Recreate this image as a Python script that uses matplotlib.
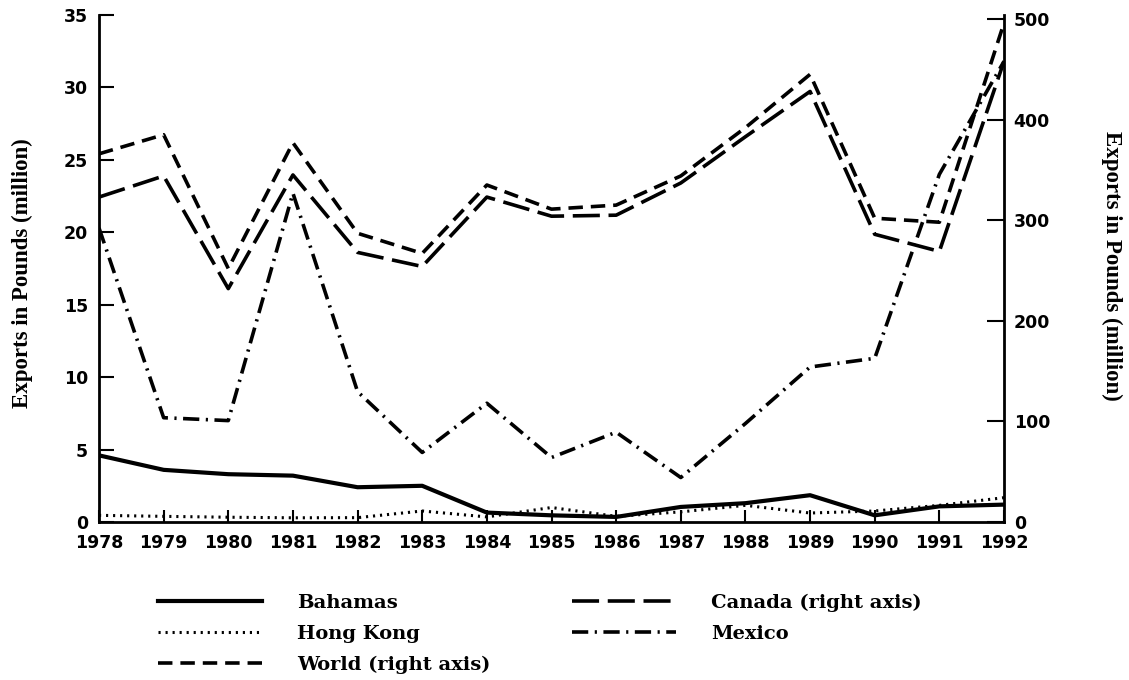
import matplotlib
matplotlib.use('Agg')
import matplotlib.pyplot as plt
from matplotlib.font_manager import FontProperties

# values
years = list(range(1978, 1993))
bahamas = [4.6, 3.6, 3.3, 3.2, 2.4, 2.5, 0.65, 0.46, 0.35, 1.04, 1.3, 1.85, 0.46, 1.08, 1.2]
hong_kong = [0.46, 0.39, 0.33, 0.29, 0.3, 0.76, 0.35, 1.0, 0.39, 0.7, 1.15, 0.62, 0.76, 1.15, 1.68]
mexico = [20.3, 7.2, 7.0, 22.7, 9.0, 4.8, 8.2, 4.45, 6.2, 3.07, 6.8, 10.7, 11.3, 24.0, 31.8]
world = [366, 385, 252, 377, 287, 267, 335, 311, 315, 344, 392, 445, 302, 298, 496]
canada = [323, 344, 232, 345, 268, 254, 323, 304, 305, 337, 383, 428, 286, 269, 458]

left_ticks = [0, 5, 10, 15, 20, 25, 30, 35]
right_ticks = [0, 100, 200, 300, 400, 500]
axis_label = 'Exports in Pounds (million)'

tick_font = FontProperties(family='DejaVu Sans', weight='heavy', size=12.5)
label_font = {'family': 'Liberation Serif', 'weight': 'bold', 'size': 16.5}

fig = plt.figure(figsize=(11.29, 6.80), dpi=100)
ax = fig.add_axes([99 / 1129, 1 - 522 / 680, 905 / 1129, 507 / 680])
ax2 = ax.twinx()

lw = 2.6
l1, = ax.plot(years, bahamas, color='black', lw=lw + 0.4, label='Bahamas')
l2, = ax.plot(years, hong_kong, color='black', lw=2.2, dashes=(0.7, 1.6), label='Hong Kong')
l5, = ax.plot(years, mexico, color='black', lw=lw, dashes=(4.5, 1.8, 0.6, 1.8), label='Mexico')
l3, = ax2.plot(years, world, color='black', lw=lw, dashes=(4.0, 2.2), label='World (right axis)')
l4, = ax2.plot(years, canada, color='black', lw=lw, dashes=(7.5, 2.4), label='Canada (right axis)')

ax.set_xlim(1978, 1992)
ax.set_ylim(0, 35)
ax2.set_ylim(0, 504)
ax.set_xticks(years)
ax.set_yticks(left_ticks)
ax2.set_yticks(right_ticks)

for a in (ax, ax2):
    a.spines['top'].set_visible(False)
    for s in ('left', 'right', 'bottom'):
        a.spines[s].set_linewidth(2)
ax.spines['right'].set_visible(False)
ax2.spines['left'].set_visible(False)
ax2.spines['bottom'].set_visible(False)

ax.tick_params(axis='x', direction='in', length=9, width=1.5, pad=9)
ax.tick_params(axis='y', direction='in', length=11, width=1.5, pad=8)
ax2.tick_params(axis='y', direction='in', length=12, width=1.5, pad=7)
for t in ax.get_xticklabels() + ax.get_yticklabels() + ax2.get_yticklabels():
    t.set_fontproperties(tick_font)

ax.set_ylabel(axis_label, fontdict=label_font, rotation=90, va='center', ha='center')
ax.yaxis.set_label_coords(-0.085, 0.49)
ax2.set_ylabel(axis_label, fontdict=label_font, rotation=270, va='center', ha='center')
ax2.yaxis.set_label_coords(1.119, 0.505)

fig.legend(handles=[l1, l2, l3, l4, l5], ncol=2, loc='upper left',
           bbox_to_anchor=(158 / 1129, 1 - 594 / 680), frameon=False,
           prop={'family': 'DejaVu Serif', 'weight': 'bold', 'size': 14},
           handlelength=5.35, handletextpad=1.8, columnspacing=4.2,
           labelspacing=0.66, borderpad=0, borderaxespad=0)

fig.savefig('out.png', dpi=100)
